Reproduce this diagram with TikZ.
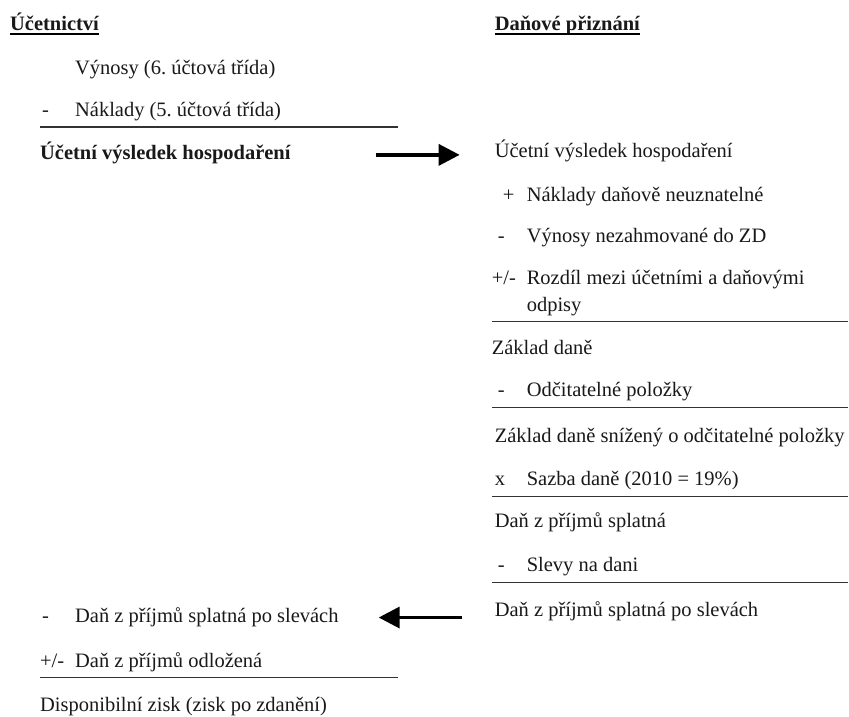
\documentclass[tikz,border=0pt]{standalone}
\usepackage{fontspec}
\setmainfont{Liberation Serif}
\usetikzlibrary{arrows.meta}

\begin{document}
\begin{tikzpicture}[x=1pt,y=-1pt,font=\fontsize{20.5}{24}\selectfont,
  row/.style={anchor=base west,inner sep=0pt,text height=15pt,text depth=5pt,text=black!90},
  hd/.style={row,font=\fontsize{20.5}{24}\selectfont\bfseries},
  sumline/.style={line width=1.3pt,draw=black!80},
  flow/.style={line width=3.5pt,-{Triangle[length=21pt,width=21pt]}}]
  \fill[white] (0,0) rectangle (849,717);
  \node[hd]  (hdL)   at (10,31)  {Účetnictví};
  \node[hd]  (hdR)   at (495,31) {Daňové přiznání};
  \draw[line width=1.4pt] ([yshift=-3pt]hdL.base west) -- ([yshift=-3pt]hdL.base east);
  \draw[line width=1.4pt] ([yshift=-3pt]hdR.base west) -- ([yshift=-3pt]hdR.base east);
  \node[row] (vynL)  at (75,75)   {Výnosy (6.\ účtová třída)};
  \node[row] (minL1) at (42,117)  {-};
  \node[row] (nakL)  at (75,117)  {Náklady (5.\ účtová třída)};
  \draw[sumline] (40,127) -- (398,127);
  \node[hd]  (ucvL)  at (40,160)  {Účetní výsledek hospodaření};
  \node[row] (ucvR)  at (495,158) {Účetní výsledek hospodaření};
  \node[row] (plR)   at (503,202) {+};
  \node[row] (nakR)  at (527,202) {Náklady daňově neuznatelné};
  \node[row] (minR1) at (498,243) {-};
  \node[row] (vynR)  at (527,243) {Výnosy nezahmované do ZD};
  \node[row] (pmR)   at (492,285) {+/-};
  \node[row] (rozR)  at (527,285) {Rozdíl mezi účetními a daňovými};
  \node[row] (odpR)  at (527,312) {odpisy};
  \draw[sumline] (492,322) -- (849,322);
  \node[row] (zdR)   at (492,355) {Základ daně};
  \node[row] (minR2) at (498,397) {-};
  \node[row] (odcR)  at (527,397) {Odčitatelné položky};
  \draw[sumline] (492,408) -- (849,408);
  \node[row] (zdsR)  at (495,443) {Základ daně snížený o odčitatelné položky};
  \node[row] (krR)   at (495,486) {x};
  \node[row] (sazR)  at (527,486) {Sazba daně (2010 = 19\%)};
  \draw[sumline] (492,497) -- (849,497);
  \node[row] (dzR)   at (495,528) {Daň z příjmů splatná};
  \node[row] (minR3) at (498,572) {-};
  \node[row] (slR)   at (527,572) {Slevy na dani};
  \draw[sumline] (492,583) -- (849,583);
  \node[row] (dzpR)  at (495,617) {Daň z příjmů splatná po slevách};
  \node[row] (minL2) at (42,623)  {-};
  \node[row] (dzpL)  at (75,623)  {Daň z příjmů splatná po slevách};
  \node[row] (pmL)   at (40,668)  {+/-};
  \node[row] (dodL)  at (75,668)  {Daň z příjmů odložená};
  \draw[sumline] (40,678) -- (398,678);
  \node[row] (dispL) at (40,712)  {Disponibilní zisk (zisk po zdanění)};
  \draw[flow,shorten <=85pt,shorten >=35pt] (ucvL.east) -- (ucvL.east -| ucvR.west);
  \draw[flow,shorten <=33pt,shorten >=40pt] (dzpR.west |- dzpL.east) -- (dzpL.east);
\end{tikzpicture}
\end{document}
